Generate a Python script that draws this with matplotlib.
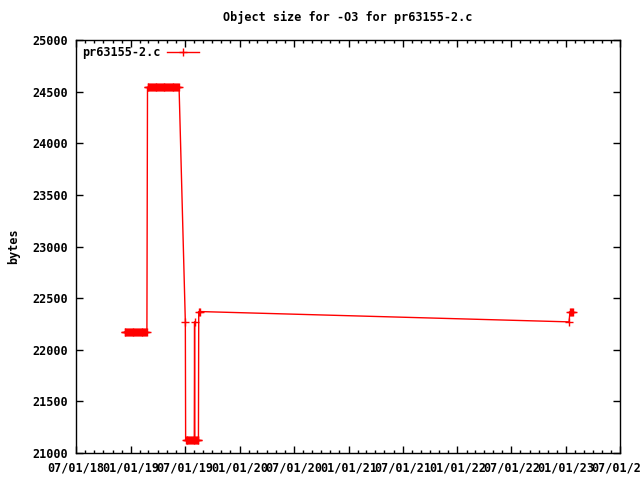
import matplotlib
matplotlib.use("Agg")
import matplotlib.pyplot as plt
import matplotlib.dates as mdates
import pandas as pd

title = "Object size for -O3 for pr63155-2.c"
series_name = "pr63155-2.c"
y_label = "bytes"

dates_a = ["2018-12-11", "2018-12-14", "2018-12-17", "2018-12-20", "2018-12-23",
           "2018-12-26", "2018-12-29", "2019-01-01", "2019-01-04", "2019-01-07",
           "2019-01-10", "2019-01-13", "2019-01-16", "2019-01-19", "2019-01-22",
           "2019-01-25", "2019-01-28", "2019-01-31", "2019-02-03", "2019-02-06",
           "2019-02-09", "2019-02-12", "2019-02-15", "2019-02-18", "2019-02-21",
           "2019-02-24"]
values_a = [22170] * len(dates_a)

dates_b = ["2019-02-26", "2019-03-01", "2019-03-04", "2019-03-07", "2019-03-10",
           "2019-03-13", "2019-03-16", "2019-03-19", "2019-03-22", "2019-03-25",
           "2019-03-28", "2019-03-31", "2019-04-03", "2019-04-06", "2019-04-09",
           "2019-04-12", "2019-04-15", "2019-04-18", "2019-04-21", "2019-04-24",
           "2019-04-27", "2019-04-30", "2019-05-03", "2019-05-06", "2019-05-09",
           "2019-05-12", "2019-05-15", "2019-05-18", "2019-05-21", "2019-05-24",
           "2019-05-27", "2019-05-30", "2019-06-02", "2019-06-05", "2019-06-08",
           "2019-06-12"]
values_b = [24540] * len(dates_b)

dates_c = ["2019-07-03", "2019-07-04", "2019-07-07", "2019-07-10", "2019-07-13",
           "2019-07-16", "2019-07-19", "2019-07-22", "2019-07-25", "2019-07-28",
           "2019-07-31", "2019-08-02", "2019-08-03", "2019-08-04", "2019-08-07",
           "2019-08-10", "2019-08-13", "2019-08-16", "2019-08-17", "2019-08-20"]
values_c = [22270, 21130, 21130, 21130, 21130,
            21130, 21130, 21130, 21130, 21130,
            21130, 21130, 22270, 21130, 21130,
            21130, 21130, 21130, 22370, 22370]

dates_d = ["2023-01-11", "2023-01-14", "2023-01-17", "2023-01-20", "2023-01-23"]
values_d = [22270, 22370, 22370, 22370, 22370]

x_start = "2018-07-01"
x_end = "2023-07-01"
y_ticks = [21000, 21500, 22000, 22500, 23000, 23500, 24000, 24500, 25000]

dates = pd.to_datetime(dates_a + dates_b + dates_c + dates_d)
values = values_a + values_b + values_c + values_d

plt.rcParams["font.family"] = "DejaVu Sans Mono"
plt.rcParams["font.weight"] = "bold"
plt.rcParams["font.size"] = 8.5

fig = plt.figure(figsize=(6.4, 4.8), dpi=100)
ax = fig.add_axes([76 / 640, 1 - 453 / 480, 544 / 640, 413 / 480])

ax.plot(dates, values, color="#ff0000", linewidth=1, marker="+",
        markersize=5.5, markeredgewidth=1, label=series_name)

ax.set_xlim(pd.Timestamp(x_start), pd.Timestamp(x_end))
ax.set_ylim(y_ticks[0], y_ticks[-1])
ax.set_yticks(y_ticks)
ax.set_yticklabels([str(v) for v in y_ticks])

ax.xaxis.set_major_locator(mdates.MonthLocator(bymonth=[1, 7]))
ax.xaxis.set_minor_locator(mdates.MonthLocator())
ax.xaxis.set_major_formatter(mdates.DateFormatter("%m/%d/%y"))

ax.tick_params(axis="both", which="major", direction="in", length=5,
               width=1, top=True, right=True, labelsize=8.5, pad=6)
ax.tick_params(axis="x", which="minor", direction="in", length=2.5,
               width=1, top=True)
for spine in ax.spines.values():
    spine.set_linewidth(1)

ax.set_title(title, fontsize=8.5, fontweight="bold", pad=14)
ax.set_ylabel(y_label, fontsize=8.5, fontweight="bold")
ax.yaxis.set_label_coords(-0.103, 0.5)

leg = ax.legend(loc="upper left", markerfirst=False, frameon=False,
                handlelength=2.7, handletextpad=0.6, borderaxespad=0.1,
                prop={"family": "DejaVu Sans Mono", "weight": "bold", "size": 8.5})

fig.savefig("out.png", dpi=100)
